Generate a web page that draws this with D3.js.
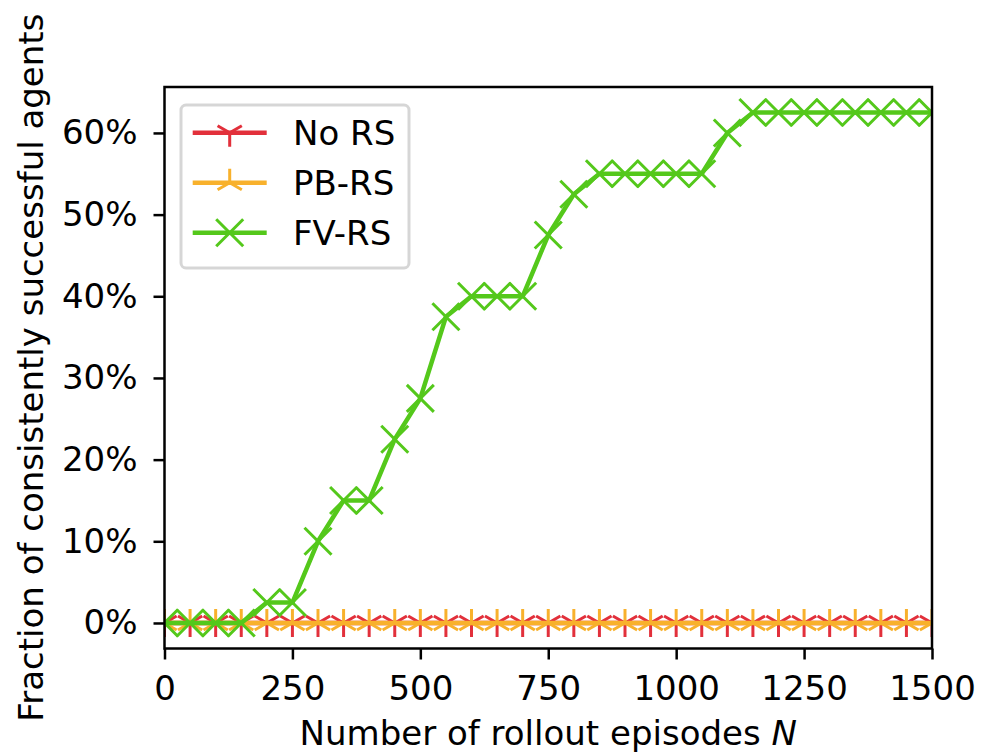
<!DOCTYPE html>
<html>
<head>
<meta charset="utf-8">
<script src="https://cdn.jsdelivr.net/npm/d3@7"></script>
<style>
  body { margin: 0; background: #fff; }
  svg { display: block; font-family: "DejaVu Sans", sans-serif; }
</style>
</head>
<body>
<svg id="chart"></svg>
<script>
// episodes on the x axis
const episodes = [0, 50, 100, 150, 200, 250, 300, 350, 400, 450, 500, 550, 600, 650, 700, 750,
  800, 850, 900, 950, 1000, 1050, 1100, 1150, 1200, 1250, 1300, 1350, 1400, 1450, 1500];

// fraction of consistently successful agents per method
const noRS = [0, 0, 0, 0, 0, 0, 0, 0, 0, 0, 0, 0, 0, 0, 0, 0,
  0, 0, 0, 0, 0, 0, 0, 0, 0, 0, 0, 0, 0, 0, 0];
const pbRS = [0, 0, 0, 0, 0, 0, 0, 0, 0, 0, 0, 0, 0, 0, 0, 0,
  0, 0, 0, 0, 0, 0, 0, 0, 0, 0, 0, 0, 0, 0, 0];
const fvRS = [0, 0, 0, 0, 0.025, 0.025, 0.10, 0.15, 0.15, 0.225, 0.275, 0.375, 0.40, 0.40, 0.40, 0.475,
  0.525, 0.55, 0.55, 0.55, 0.55, 0.55, 0.60, 0.625, 0.625, 0.625, 0.625, 0.625, 0.625, 0.625, 0.625];

const seriesNames = ["No RS", "PB-RS", "FV-RS"];
const seriesColors = ["#e2303b", "#f8b12c", "#54c81b"];
const seriesMarkers = ["tri_down", "tri_up", "x"];

const xTicks = [0, 250, 500, 750, 1000, 1250, 1500];
const yTicks = [0, 0.1, 0.2, 0.3, 0.4, 0.5, 0.6];

const width = 982, height = 753;
const margin = { top: 87, right: 50, bottom: 104.5, left: 164.5 };
const fontSize = 34;

const svg = d3.select("#chart").attr("width", width).attr("height", height);

const x = d3.scaleLinear().domain([0, 1500]).range([margin.left, width - margin.right]);
const y = d3.scaleLinear().domain([-0.03125, 0.65625]).range([height - margin.bottom, margin.top]);

// marker shapes, centred on 0,0
function markerPath(kind, r) {
  const c = Math.cos(Math.PI / 6) * r, s = 0.5 * r;
  if (kind === "tri_down") return `M0,0L0,${r}M0,0L${-c},${-s}M0,0L${c},${-s}`;
  if (kind === "tri_up") return `M0,0L0,${-r}M0,0L${-c},${s}M0,0L${c},${s}`;
  return `M${-r},${-r}L${r},${r}M${-r},${r}L${r},${-r}`;
}
const markerSize = { tri_down: 14, tri_up: 14, x: 13.5 };

svg.append("clipPath").attr("id", "plotclip")
  .append("rect")
  .attr("x", x.range()[0]).attr("y", y.range()[1])
  .attr("width", x.range()[1] - x.range()[0])
  .attr("height", y.range()[0] - y.range()[1]);

const plot = svg.append("g").attr("clip-path", "url(#plotclip)");

const line = d3.line().x((d) => x(d[0])).y((d) => y(d[1]));

[noRS, pbRS, fvRS].forEach((vals, i) => {
  const pts = episodes.map((e, j) => [e, vals[j]]);
  plot.append("path")
    .datum(pts)
    .attr("d", line)
    .attr("fill", "none")
    .attr("stroke", seriesColors[i])
    .attr("stroke-width", 4.5)
    .attr("stroke-linejoin", "round")
    .attr("stroke-linecap", "square");
  plot.append("g")
    .selectAll("path")
    .data(pts)
    .join("path")
    .attr("transform", (d) => `translate(${x(d[0])},${y(d[1])})`)
    .attr("d", markerPath(seriesMarkers[i], markerSize[seriesMarkers[i]]))
    .attr("fill", "none")
    .attr("stroke", seriesColors[i])
    .attr("stroke-width", 3);
});

// axes
const xAxis = svg.append("g")
  .attr("transform", `translate(0,${y.range()[0]})`)
  .call(d3.axisBottom(x).tickValues(xTicks).tickFormat(d3.format("d")).tickSize(11).tickPadding(16));
const yAxis = svg.append("g")
  .attr("transform", `translate(${x.range()[0]},0)`)
  .call(d3.axisLeft(y).tickValues(yTicks).tickFormat(d3.format(".0%")).tickSize(11).tickPadding(16));

[xAxis, yAxis].forEach((g) => {
  g.select(".domain").remove();
  g.selectAll(".tick line").attr("stroke", "#000").attr("stroke-width", 2.5);
  g.selectAll(".tick text")
    .attr("fill", "#000")
    .style("font-family", "DejaVu Sans")
    .style("font-size", fontSize + "px");
});

// frame
svg.append("rect")
  .attr("x", x.range()[0]).attr("y", y.range()[1])
  .attr("width", x.range()[1] - x.range()[0])
  .attr("height", y.range()[0] - y.range()[1])
  .attr("fill", "none")
  .attr("stroke", "#000")
  .attr("stroke-width", 2.5);

// axis labels
const xLabel = svg.append("text")
  .attr("x", (x.range()[0] + x.range()[1]) / 2)
  .attr("y", 745)
  .attr("text-anchor", "middle")
  .style("font-size", fontSize + "px")
  .text("Number of rollout episodes ");
xLabel.append("tspan").style("font-style", "italic").text("N");

svg.append("text")
  .attr("transform", `translate(43,${(y.range()[0] + y.range()[1]) / 2}) rotate(-90)`)
  .attr("text-anchor", "middle")
  .style("font-size", fontSize + "px")
  .text("Fraction of consistently successful agents");

// legend
const legend = svg.append("g");
legend.append("rect")
  .attr("x", 181).attr("y", 105)
  .attr("width", 228).attr("height", 163)
  .attr("rx", 5)
  .attr("fill", "#fff").attr("fill-opacity", 0.8)
  .attr("stroke", "#cccccc").attr("stroke-opacity", 0.8)
  .attr("stroke-width", 3);

seriesNames.forEach((name, i) => {
  const ly = 132.7 + i * 50;
  const row = legend.append("g");
  row.append("line")
    .attr("x1", 192.7).attr("x2", 266.7)
    .attr("y1", ly).attr("y2", ly)
    .attr("stroke", seriesColors[i])
    .attr("stroke-width", 4.5);
  row.append("path")
    .attr("transform", `translate(229.7,${ly})`)
    .attr("d", markerPath(seriesMarkers[i], markerSize[seriesMarkers[i]]))
    .attr("fill", "none")
    .attr("stroke", seriesColors[i])
    .attr("stroke-width", 3);
  row.append("text")
    .attr("x", 293)
    .attr("y", ly + 12.4)
    .style("font-size", fontSize + "px")
    .text(name);
});
</script>
</body>
</html>
